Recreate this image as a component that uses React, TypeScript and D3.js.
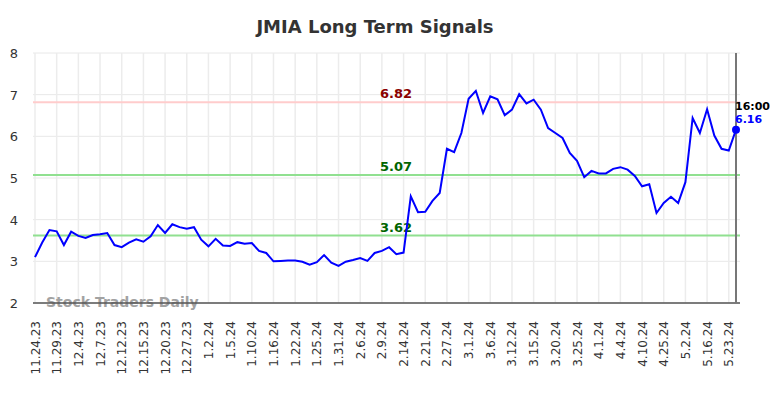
import React from "react";
import * as d3 from "d3";

const title = "JMIA Long Term Signals";

const prices: number[] = [
  3.1, 3.45, 3.75, 3.72, 3.39, 3.71, 3.61, 3.56, 3.63, 3.65,
  3.68, 3.39, 3.34, 3.45, 3.53, 3.47, 3.6, 3.87, 3.68, 3.89,
  3.82, 3.78, 3.82, 3.52, 3.36, 3.54, 3.38, 3.37, 3.46, 3.42,
  3.44, 3.25, 3.2, 3.0, 3.01, 3.02, 3.02, 2.99, 2.92, 2.98,
  3.15, 2.97, 2.89, 2.99, 3.03, 3.08, 3.01, 3.2, 3.25, 3.34,
  3.17, 3.21, 4.56, 4.18, 4.19, 4.45, 4.64, 5.7, 5.62, 6.08,
  6.9, 7.09, 6.56, 6.96, 6.89, 6.51, 6.64, 7.01, 6.79, 6.88,
  6.64, 6.2, 6.08, 5.96, 5.6, 5.41, 5.02, 5.17, 5.11, 5.11,
  5.22, 5.26, 5.2, 5.05, 4.8, 4.85, 4.16, 4.4, 4.55, 4.4,
  4.9, 6.44, 6.08, 6.65, 6.02, 5.7, 5.66, 6.16,
];

const tickLabels: string[] = [
  "11.24.23", "11.29.23", "12.4.23", "12.7.23", "12.12.23", "12.15.23",
  "12.20.23", "12.27.23", "1.2.24", "1.5.24", "1.10.24", "1.16.24",
  "1.22.24", "1.25.24", "1.31.24", "2.6.24", "2.9.24", "2.14.24",
  "2.21.24", "2.27.24", "3.1.24", "3.6.24", "3.12.24", "3.15.24",
  "3.20.24", "3.25.24", "4.1.24", "4.4.24", "4.10.24", "4.25.24",
  "5.2.24", "5.16.24", "5.23.24",
];
const tickStep = 3;

const yTicks: number[] = [2, 3, 4, 5, 6, 7, 8];

const levels = [
  { value: 6.82, label: "6.82", line: "#ffcccc", text: "#8b0000" },
  { value: 5.07, label: "5.07", line: "#90e090", text: "#006400" },
  { value: 3.62, label: "3.62", line: "#90e090", text: "#006400" },
];

const lastTime = "16:00";

export default function App() {
  const W = 784;
  const H = 398;
  const left = 35;
  const right = 736;
  const top = 53;
  const bottom = 303;

  const x = d3
    .scalePoint<number>()
    .domain(d3.range(prices.length))
    .range([left, right]);
  const y = d3.scaleLinear().domain([2, 8]).range([bottom, top]);

  const line = d3
    .line<number>()
    .x((_, i) => x(i) as number)
    .y((d) => y(d));

  const lastIdx = prices.length - 1;
  const lastVal = prices[lastIdx];
  const font = "'DejaVu Sans', sans-serif";

  return (
    <svg
      width={W}
      height={H}
      style={{ position: "absolute", left: 0, top: 0, background: "#fff" }}
      fontFamily={font}
    >
      <text
        x={375}
        y={33}
        textAnchor="middle"
        fontSize={18}
        fontWeight="bold"
        fill="#333"
      >
        {title}
      </text>

      {/* horizontal grid */}
      {yTicks.map((t) => (
        <g key={"y" + t}>
          <line
            x1={left - 2}
            x2={right + 4}
            y1={y(t)}
            y2={y(t)}
            stroke="#e8e8e8"
            strokeWidth={1}
          />
          <text
            x={18}
            y={y(t) + 5}
            textAnchor="end"
            fontSize={13}
            fill="#333"
          >
            {t}
          </text>
        </g>
      ))}

      {/* vertical grid + x labels */}
      {tickLabels.map((lab, k) => {
        const xi = x(k * tickStep) as number;
        return (
          <g key={"x" + k}>
            <line
              x1={xi}
              x2={xi}
              y1={top}
              y2={bottom}
              stroke="#ececec"
              strokeWidth={1.5}
            />
            <text
              transform={`translate(${xi + 4.5},321) rotate(-90)`}
              textAnchor="end"
              fontSize={12}
              fill="#333"
            >
              {lab}
            </text>
          </g>
        );
      })}

      {/* levels */}
      {levels.map((l) => (
        <g key={l.label}>
          <line
            x1={left - 2}
            x2={right + 4}
            y1={y(l.value)}
            y2={y(l.value)}
            stroke={l.line}
            strokeWidth={2}
          />
          <text
            x={396}
            y={y(l.value) - 4}
            textAnchor="middle"
            fontSize={13}
            fontWeight="bold"
            fill={l.text}
          >
            {l.label}
          </text>
        </g>
      ))}

      {/* watermark */}
      <text
        x={46}
        y={307}
        fontSize={14}
        fontWeight="bold"
        fill="#999"
        opacity={0.9}
      >
        Stock Traders Daily
      </text>

      {/* axes */}
      <line
        x1={left - 2}
        x2={right + 4}
        y1={bottom}
        y2={bottom}
        stroke="#555"
        strokeWidth={1.5}
      />
      <line
        x1={right}
        x2={right}
        y1={top}
        y2={bottom}
        stroke="#777"
        strokeWidth={2}
      />

      <path d={line(prices) || ""} fill="none" stroke="#0000ff" strokeWidth={2} />
      <circle cx={x(lastIdx) as number} cy={y(lastVal)} r={4} fill="#0000ff" />

      <text
        x={735}
        y={110}
        fontSize={11}
        fontWeight="bold"
        fill="#000"
      >
        {lastTime}
      </text>
      <text
        x={735}
        y={123}
        fontSize={11}
        fontWeight="bold"
        fill="#0000ff"
      >
        {lastVal.toFixed(2)}
      </text>
    </svg>
  );
}
